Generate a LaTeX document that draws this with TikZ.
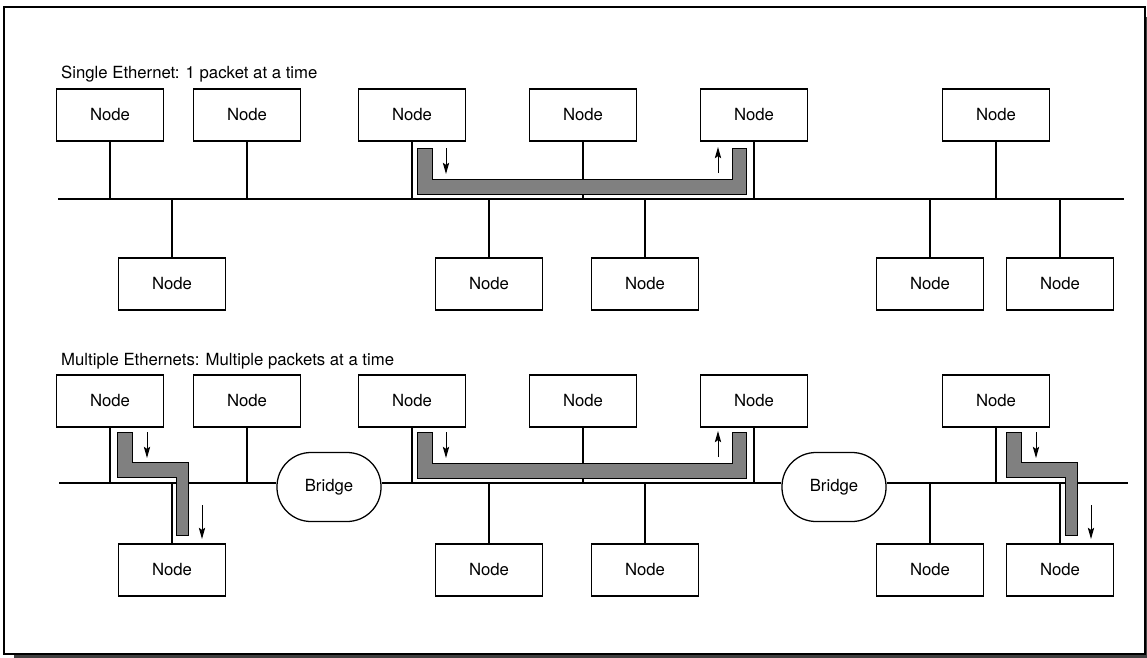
\documentclass[tikz,border=0pt]{standalone}
\usepackage{fontspec}
\setmainfont{TeX Gyre Heros}
\usetikzlibrary{arrows.meta}

\begin{document}
\begin{tikzpicture}[x=0.025cm,y=-0.025cm,line width=0.75pt,
  font=\fontsize{11.9}{14}\selectfont,
  box/.style={draw,line width=0.9pt,minimum width=2.675cm,minimum height=1.3cm,inner sep=0pt},
  bridge/.style={draw,fill=white,line width=0.9pt,rounded corners=0.85cm,minimum width=2.6cm,minimum height=1.725cm,inner sep=0pt},
  pkt/.style={draw,line width=0.7pt,fill=black!50},
  flow/.style={-{Stealth[length=8pt,width=4.5pt,inset=1.5pt]},line width=0.7pt}]
  \useasboundingbox (0,0) rectangle (1147,658);
  % frame and its shadow
  \fill[black!75] (14,654) rectangle (1147,658);
  \fill[black!75] (1145,17) rectangle (1147,658);
  \draw[line width=1.1pt] (4,7) rectangle (1145,654);

  % single ethernet
  \node[anchor=base west] (cap1) at (56,78) {Single Ethernet: 1 packet at a time};
  \coordinate (bus1l) at (58,199);
  \coordinate (bus1r) at (1124,199);
  \draw (bus1l) -- (bus1r);
  \foreach \n/\x in {1/110,2/247,3/412,4/583,5/754,6/996}
    {
      \node[box] (u\n) at (\x,115) {Node};
      \draw (u\n.south) -- (u\n.south |- bus1l);
    }
  \foreach \n/\x in {1/172,2/489,3/645,4/930,5/1060}
    {
      \node[box] (d\n) at (\x,284) {Node};
      \draw (d\n.north) -- (d\n.north |- bus1l);
    }
  \draw[pkt] (417,148) -- (432,148) -- (432,179) -- (732,179) -- (732,148) -- (746,148) -- (746,194) -- (417,194) -- cycle;
  \draw[flow] (446,148) -- (446,174);
  \draw[flow] (718,173) -- (718,147);

  % multiple ethernets
  \node[anchor=base west] (cap2) at (56,365) {Multiple Ethernets: Multiple packets at a time};
  \node[bridge] (br1) at (329,487) {Bridge};
  \node[bridge] (br2) at (834,487) {Bridge};
  \coordinate (bus2l) at (59,483);
  \coordinate (bus2r) at (1128,483);
  \draw (bus2l) -- (br1.west |- bus2l);
  \draw (br1.east |- bus2l) -- (br2.west |- bus2l);
  \draw (br2.east |- bus2l) -- (bus2r);
  \foreach \n/\x in {1/110,2/247,3/412,4/583,5/754,6/996}
    {
      \node[box] (v\n) at (\x,401) {Node};
      \draw (v\n.south) -- (v\n.south |- bus2l);
    }
  \foreach \n/\x in {1/172,2/489,3/645,4/930,5/1060}
    {
      \node[box] (e\n) at (\x,570) {Node};
      \draw (e\n.north) -- (e\n.north |- bus2l);
    }
  \draw[pkt] (417,432) -- (432,432) -- (432,463) -- (732,463) -- (732,432) -- (746,432) -- (746,478) -- (417,478) -- cycle;
  \draw[flow] (446,432) -- (446,458);
  \draw[flow] (718,457) -- (718,431);
  \foreach \x in {0,889}
    {
      \draw[pkt] (117+\x,432) -- (132+\x,432) -- (132+\x,462) -- (188+\x,462) -- (188+\x,535) -- (176+\x,535) -- (176+\x,477) -- (117+\x,477) -- cycle;
      \draw[flow] (147+\x,432) -- (147+\x,458);
      \draw[flow] (202+\x,505) -- (202+\x,539);
    }
\end{tikzpicture}
\end{document}
